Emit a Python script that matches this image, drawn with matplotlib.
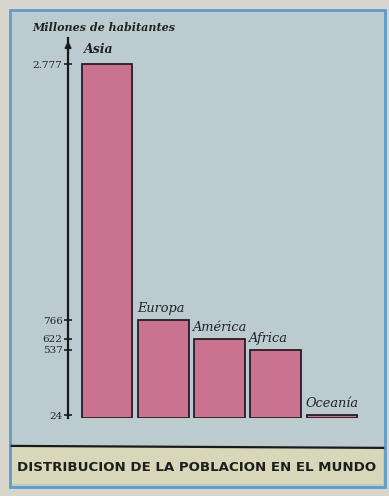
import matplotlib.pyplot as plt
from matplotlib.patches import Rectangle

# Datos: poblacion por continente (millones de habitantes)
continentes = ['Asia', 'Europa', 'América', 'Africa', 'Oceanía']
poblacion = [2777, 766, 622, 537, 24]
tick_vals = [24, 537, 622, 766, 2777]
tick_labels = ['24', '537', '622', '766', '2.777']

fig = plt.figure(figsize=(3.89, 4.96), dpi=100)
fig.patch.set_facecolor('#d8d6cc')

# marco azul y fondo del grafico
fig.patches.append(Rectangle((0.025, 0.018), 0.965, 0.962, transform=fig.transFigure,
                             facecolor='#bccbd0', edgecolor='#5d9ccb', linewidth=2.0, zorder=-3))
# franja del titulo
fig.patches.append(Rectangle((0.03, 0.024), 0.955, 0.075, transform=fig.transFigure,
                             facecolor='#d8d7b9', edgecolor='none', zorder=-2))
fig.add_artist(plt.Line2D([0.03, 0.985], [0.101, 0.097], transform=fig.transFigure,
                          color='#1a1a1a', linewidth=1.6))

ax = fig.add_axes([0.175, 0.157, 0.763, 0.766])
ax.set_facecolor('none')

x = range(len(continentes))
ax.bar(x, poblacion, width=0.9, color='#c97390', edgecolor='#2a1c22', linewidth=1.3)

ax.set_xlim(-0.693, 4.587)
ax.set_ylim(0, 2980)

for s in ['top', 'right', 'bottom']:
    ax.spines[s].set_visible(False)
ax.spines['left'].set_linewidth(1.6)
ax.spines['left'].set_color('#1a1a1a')
ax.set_xticks([])
ax.set_yticks(tick_vals)
ax.set_yticklabels(tick_labels, family='DejaVu Serif', fontsize=7.5, color='#222222')
ax.tick_params(axis='y', direction='inout', length=6, width=1.2, pad=1, color='#1a1a1a')

# flecha en la parte superior del eje
ax.annotate('', xy=(0, 1.0), xytext=(0, 0.95), xycoords='axes fraction',
            arrowprops=dict(arrowstyle='-|>', color='#1a1a1a', lw=1.4, mutation_scale=9))

# nombres de continentes
for i, (nombre, val) in enumerate(zip(continentes, poblacion)):
    if i == 0:
        ax.text(i - 0.15, val + 60, nombre, ha='center', va='bottom', fontsize=9,
                style='italic', weight='bold', family='DejaVu Serif', color='#222222')
    else:
        ax.text(i - 0.47, val + 40, nombre, ha='left', va='bottom', fontsize=9.3,
                style='italic', family='DejaVu Serif', color='#222222')

fig.text(0.082, 0.944, 'Millones de habitantes', fontsize=8, style='italic',
         weight='bold', family='DejaVu Serif', color='#222222', va='center')

fig.text(0.505, 0.057, 'DISTRIBUCION DE LA POBLACION EN EL MUNDO', ha='center', va='center',
         fontsize=9.6, weight='bold', family='DejaVu Sans', color='#1e1e1e')

fig.savefig('out.png', dpi=100, facecolor=fig.get_facecolor())
